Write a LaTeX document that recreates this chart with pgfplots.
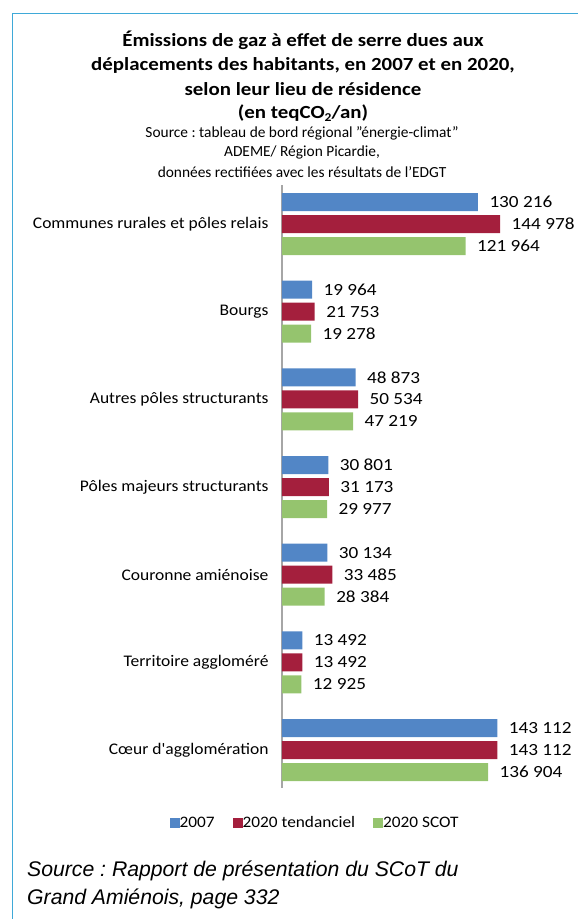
\documentclass[border=0pt]{standalone}
\usepackage{fontspec}
\setmainfont{Carlito}
\newfontfamily\srcfont{Liberation Sans}
\newfontfamily\widefont[FakeStretch=1.13]{Carlito}
\newfontfamily\lblfont[FakeStretch=1.08]{Carlito}
\usepackage{pgfplots}
\pgfplotsset{compat=1.18}
\definecolor{cblue}{HTML}{5286C6}
\definecolor{cred}{HTML}{A41F3D}
\definecolor{cgreen}{HTML}{95C46E}
\definecolor{cframe}{HTML}{3FA9D8}
\frenchspacing
\begin{document}
\begin{tikzpicture}
\path[use as bounding box] (0,0) rectangle (578pt,-919pt);
\draw[cframe, line width=1.2pt] (12.5pt,-925pt) -- (12.5pt,-13.5pt) -- (585pt,-13.5pt);
\begin{scope}[every node/.style={anchor=center, inner sep=0pt}]
\node[font=\widefont\bfseries\fontsize{18.5}{20}\selectfont] at (303pt,-40pt) {Émissions de gaz à effet de serre dues aux};
\node[font=\widefont\bfseries\fontsize{18.5}{20}\selectfont] at (303pt,-65pt) {déplacements des habitants, en 2007 et en 2020,};
\node[font=\widefont\bfseries\fontsize{18.5}{20}\selectfont] at (303pt,-89pt) {selon leur lieu de résidence};
\node[font=\widefont\bfseries\fontsize{18.5}{20}\selectfont] at (303pt,-113pt) {(en teqCO\raisebox{-0.35ex}{\fontsize{12}{12}\selectfont 2}/an)};
\node[font=\fontsize{15.4}{16}\selectfont] at (302pt,-133pt) {Source : tableau de bord régional \symbol{34}énergie-climat\symbol{34}};
\node[font=\fontsize{15.4}{16}\selectfont] at (302pt,-152pt) {ADEME/ Région Picardie,};
\node[font=\fontsize{15.4}{16}\selectfont] at (302pt,-172pt) {données rectifiées avec les résultats de l'EDGT};
\node[font=\srcfont\itshape\fontsize{21.2}{24}\selectfont, anchor=base west] at (27pt,-876pt) {Source : Rapport de présentation du SCoT du};
\node[font=\srcfont\itshape\fontsize{21.2}{24}\selectfont, anchor=base west] at (27pt,-904pt) {Grand Amiénois, page 332};
\end{scope}
\begin{axis}[
 at={(282pt,-788pt)}, anchor=south west,
 scale only axis, width=301pt, height=603pt,
 xbar, bar width=18pt,
 xmin=0, xmax=200000,
 ymin=-0.433, ymax=6.445,
 axis x line=none,
 axis y line=left,
 y axis line style={-, draw=gray!70, line width=1.5pt},
 ytick={0,...,6},
 yticklabels={Cœur d'agglomération, Territoire aggloméré, Couronne amiénoise, Pôles majeurs structurants, Autres pôles structurants, Bourgs, Communes rurales et pôles relais},
 major tick length=0pt,
 yticklabel style={font=\lblfont\fontsize{16.2}{18}\selectfont, xshift=-10pt},
 point meta=x,
 nodes near coords={\pgfmathprintnumber[assume math mode=true, fixed, precision=0, 1000 sep={\ }]{\pgfplotspointmeta}},
 nodes near coords style={font=\widefont\fontsize{17}{18}\selectfont, anchor=west, xshift=8pt},
 legend columns=3,
 legend style={draw=none, at={(0.11,-0.058)}, anchor=center, font=\lblfont\fontsize{16}{16}\selectfont, /tikz/every even column/.append style={column sep=16pt}, /tikz/every odd column/.append style={column sep=-2pt}},
 legend image code/.code={\fill[#1] (0pt,-5pt) rectangle (10pt,5pt);},
]
\addplot[fill=cblue, draw=none, bar shift=22pt] coordinates {(143112,0) (13492,1) (30134,2) (30801,3) (48873,4) (19964,5) (130216,6)};
\addplot[fill=cred, draw=none, bar shift=0pt] coordinates {(143112,0) (13492,1) (33485,2) (31173,3) (50534,4) (21753,5) (144978,6)};
\addplot[fill=cgreen, draw=none, bar shift=-22pt] coordinates {(136904,0) (12925,1) (28384,2) (29977,3) (47219,4) (19278,5) (121964,6)};
\legend{2007, 2020 tendanciel, 2020 SCOT}
\end{axis}
\end{tikzpicture}
\end{document}
